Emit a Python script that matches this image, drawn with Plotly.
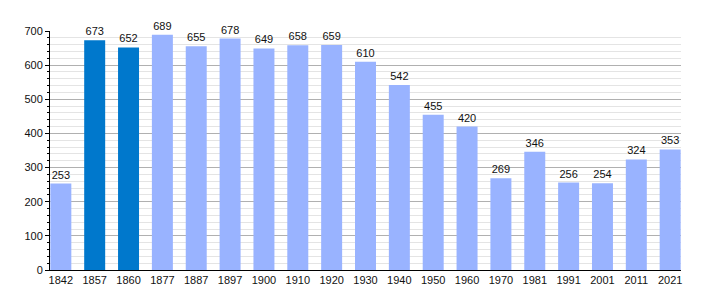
import plotly.graph_objects as go

years = ["1842", "1857", "1860", "1877", "1887", "1897", "1900", "1910", "1920", "1930",
         "1940", "1950", "1960", "1970", "1981", "1991", "2001", "2011", "2021"]
population = [253, 673, 652, 689, 655, 678, 649, 658, 659, 610,
              542, 455, 420, 269, 346, 256, 254, 324, 353]
highlight = ["1857", "1860"]

colors = ["#0078cc" if y in highlight else "#99b3ff" for y in years]
bar_w = 0.62

fig = go.Figure()
fig.add_trace(go.Bar(
    x=years, y=population, marker=dict(color=colors, line=dict(width=0)),
    text=[str(v) for v in population], textposition="outside",
    textfont=dict(family="Liberation Sans, Arial", size=11, color="#111"),
    cliponaxis=False, width=bar_w,
))
fig.update_layout(
    width=710, height=300,
    margin=dict(l=50, r=29, t=31, b=30),
    paper_bgcolor="white", plot_bgcolor="white",
    showlegend=False,
    font=dict(family="Liberation Sans, Arial", size=11, color="#111"),
    xaxis=dict(type="category", showline=True, linecolor="#000", linewidth=1,
               range=[-bar_w / 2 - 0.01, len(years) - 1 + bar_w / 2 + 0.01],
               ticks="", tickfont=dict(size=11), showgrid=False),
    yaxis=dict(range=[0, 700], dtick=100, showline=True, linecolor="#000", linewidth=1,
               ticks="outside", ticklen=4, tickcolor="#000",
               showgrid=True, gridcolor="#b0b0b0", gridwidth=1, zeroline=False,
               tickfont=dict(size=11),
               minor=dict(dtick=20, showgrid=True, gridcolor="#e4e4e4",
                          ticks="outside", ticklen=2, tickcolor="#000")),
)
fig.write_html("out.html")
